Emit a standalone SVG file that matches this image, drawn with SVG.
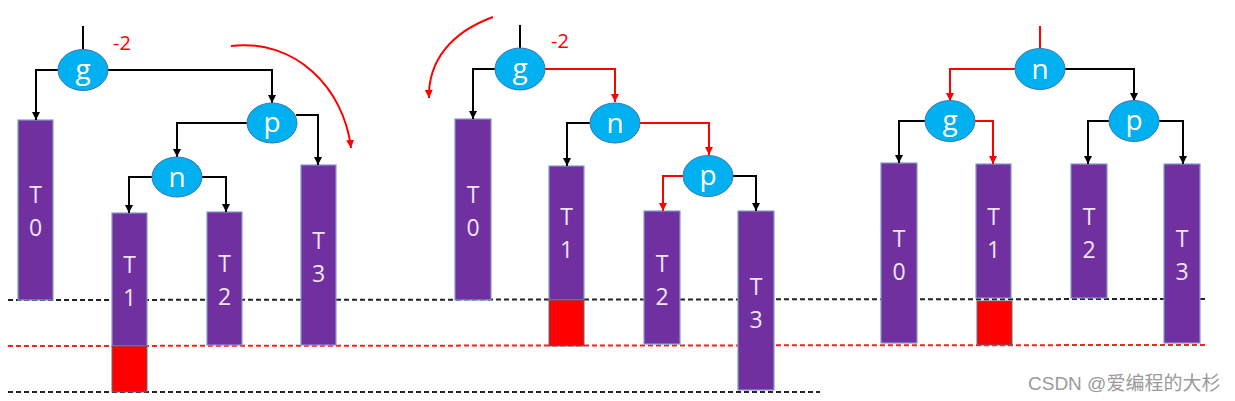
<svg xmlns="http://www.w3.org/2000/svg" width="1235" height="401" viewBox="0 0 1235 401">
<defs>
<style>
.node ellipse{fill:#00B0F0;stroke:#3A78B0;stroke-width:1}
.node text{fill:#ffffff;font-family:"Open Sans","Liberation Sans",sans-serif;font-size:28px;text-anchor:middle}
.sub rect.t{fill:#7030A0;stroke:#7F9BC8;stroke-width:1.2}
.sub rect.r{fill:#FF0000;stroke:#5A6A80;stroke-width:1}
.sub text{fill:#EEE6F4;font-family:"Open Sans","Liberation Sans",sans-serif;font-size:23px;text-anchor:middle}
.c{fill:none;stroke:#000;stroke-width:2}
.cr{fill:none;stroke:#FF0000;stroke-width:2}
.ab{marker-end:url(#ab)}
.ar{marker-end:url(#ar)}
.dk{fill:none;stroke:#222;stroke-width:2;stroke-dasharray:5 3}
.dr{fill:none;stroke:#FF2020;stroke-width:2;stroke-dasharray:5 3}
.bf{fill:#FF0000;font-family:"Open Sans","Liberation Sans",sans-serif;font-size:20px}
</style>
<marker id="ab" markerUnits="userSpaceOnUse" markerWidth="9" markerHeight="9" refX="8" refY="4" orient="auto"><path d="M0,0 L8,4 L0,8 z" fill="#000"/></marker>
<marker id="ar" markerUnits="userSpaceOnUse" markerWidth="9" markerHeight="9" refX="8" refY="4" orient="auto"><path d="M0,0 L8,4 L0,8 z" fill="#FF0000"/></marker>
</defs>
<rect width="1235" height="401" fill="#fff"/>

<g id="levels">
<line class="dk" x1="8" y1="300" x2="1208" y2="299"/>
<line class="dr" x1="8" y1="346" x2="1208" y2="345"/>
<line class="dk" x1="8" y1="392" x2="820" y2="392"/>
</g>

<!-- Left panel subtrees -->
<g id="L_T0" class="sub"><rect class="t" x="18" y="120" width="35" height="180"/><text x="35.5" y="203">T</text><text x="35.5" y="236">0</text></g>
<g id="L_T1" class="sub"><rect class="t" x="112" y="213" width="35" height="133"/><rect class="r" x="112" y="346" width="35" height="46"/><text x="129.5" y="273">T</text><text x="129.5" y="306">1</text></g>
<g id="L_T2" class="sub"><rect class="t" x="207" y="212" width="35" height="133"/><text x="224.5" y="272">T</text><text x="224.5" y="305">2</text></g>
<g id="L_T3" class="sub"><rect class="t" x="301" y="165" width="35" height="180"/><text x="318.5" y="249">T</text><text x="318.5" y="282">3</text></g>

<!-- Middle panel subtrees -->
<g id="M_T0" class="sub"><rect class="t" x="455" y="119" width="36" height="181"/><text x="473" y="203">T</text><text x="473" y="236">0</text></g>
<g id="M_T1" class="sub"><rect class="t" x="549" y="166" width="35" height="134"/><rect class="r" x="549" y="300" width="35" height="46"/><text x="566.5" y="225">T</text><text x="566.5" y="258">1</text></g>
<g id="M_T2" class="sub"><rect class="t" x="644" y="211" width="36" height="133"/><text x="662" y="272">T</text><text x="662" y="305">2</text></g>
<g id="M_T3" class="sub"><rect class="t" x="738" y="211" width="36" height="179"/><text x="756" y="295">T</text><text x="756" y="328">3</text></g>

<!-- Right panel subtrees -->
<g id="R_T0" class="sub"><rect class="t" x="881" y="163" width="36" height="180"/><text x="899" y="247">T</text><text x="899" y="280">0</text></g>
<g id="R_T1" class="sub"><rect class="t" x="976" y="164" width="35" height="134"/><rect class="r" x="977" y="301" width="35" height="44"/><text x="993.5" y="225">T</text><text x="993.5" y="258">1</text></g>
<g id="R_T2" class="sub"><rect class="t" x="1071" y="164" width="36" height="134"/><text x="1089" y="225">T</text><text x="1089" y="258">2</text></g>
<g id="R_T3" class="sub"><rect class="t" x="1164" y="164" width="36" height="179"/><text x="1182" y="247">T</text><text x="1182" y="280">3</text></g>

<g id="connectors">
<!-- left -->
<path class="c" d="M83,26 V50"/>
<path class="c ab" d="M58,70 H36 V120"/>
<path class="c ab" d="M108,70 H272 V103"/>
<path class="c ab" d="M247,123 H177 V157"/>
<path class="c ab" d="M296,115 H318 V165"/>
<path class="c ab" d="M153,177 H129 V213"/>
<path class="c ab" d="M202,177 H226 V212"/>
<path class="cr ar" d="M231,46 C295,38 344,88 351,148"/>
<!-- middle -->
<path class="c" d="M520,25 V48"/>
<path class="c ab" d="M495,69 H473 V119"/>
<path class="cr ar" d="M545,69 H615 V102"/>
<path class="c ab" d="M590,123 H567 V166"/>
<path class="cr ar" d="M640,123 H709 V155"/>
<path class="cr ar" d="M683,176 H663 V211"/>
<path class="c ab" d="M733,176 H756 V211"/>
<path class="cr ar" d="M493,17 C452,32 428,60 429,98"/>
<!-- right -->
<path class="cr" d="M1040,26 V48"/>
<path class="cr ar" d="M1015,69 H950 V101"/>
<path class="c ab" d="M1065,69 H1134 V101"/>
<path class="c ab" d="M925,121 H899 V163"/>
<path class="cr ar" d="M975,121 H993 V164"/>
<path class="c ab" d="M1109,121 H1088 V164"/>
<path class="c ab" d="M1159,121 H1183 V164"/>
</g>

<!-- Left nodes -->
<g id="L_g" class="node"><ellipse cx="83" cy="70" rx="25" ry="20.5"/><text x="83" y="79">g</text></g>
<g id="L_p" class="node"><ellipse cx="272" cy="123" rx="25" ry="20"/><text x="272" y="132">p</text></g>
<g id="L_n" class="node"><ellipse cx="177" cy="177" rx="25" ry="20"/><text x="177" y="187">n</text></g>
<text id="L_bf" class="bf" x="113" y="50">-2</text>

<!-- Middle nodes -->
<g id="M_g" class="node"><ellipse cx="520" cy="69" rx="25" ry="21"/><text x="520" y="78">g</text></g>
<g id="M_n" class="node"><ellipse cx="615" cy="123" rx="25" ry="20"/><text x="615" y="133">n</text></g>
<g id="M_p" class="node"><ellipse cx="708" cy="176" rx="25" ry="20.5"/><text x="708" y="185">p</text></g>
<text id="M_bf" class="bf" x="551" y="48">-2</text>

<!-- Right nodes -->
<g id="R_n" class="node"><ellipse cx="1040" cy="69" rx="25" ry="20.5"/><text x="1040" y="79">n</text></g>
<g id="R_g" class="node"><ellipse cx="950" cy="121" rx="25" ry="20.5"/><text x="950" y="130">g</text></g>
<g id="R_p" class="node"><ellipse cx="1134" cy="121" rx="25" ry="20.5"/><text x="1134" y="130">p</text></g>

<text id="watermark" x="1028" y="390" fill="#9a9a9a" font-family="'Liberation Sans','Noto Sans CJK SC',sans-serif" font-size="19">CSDN @爱编程的大杉</text>
</svg>
